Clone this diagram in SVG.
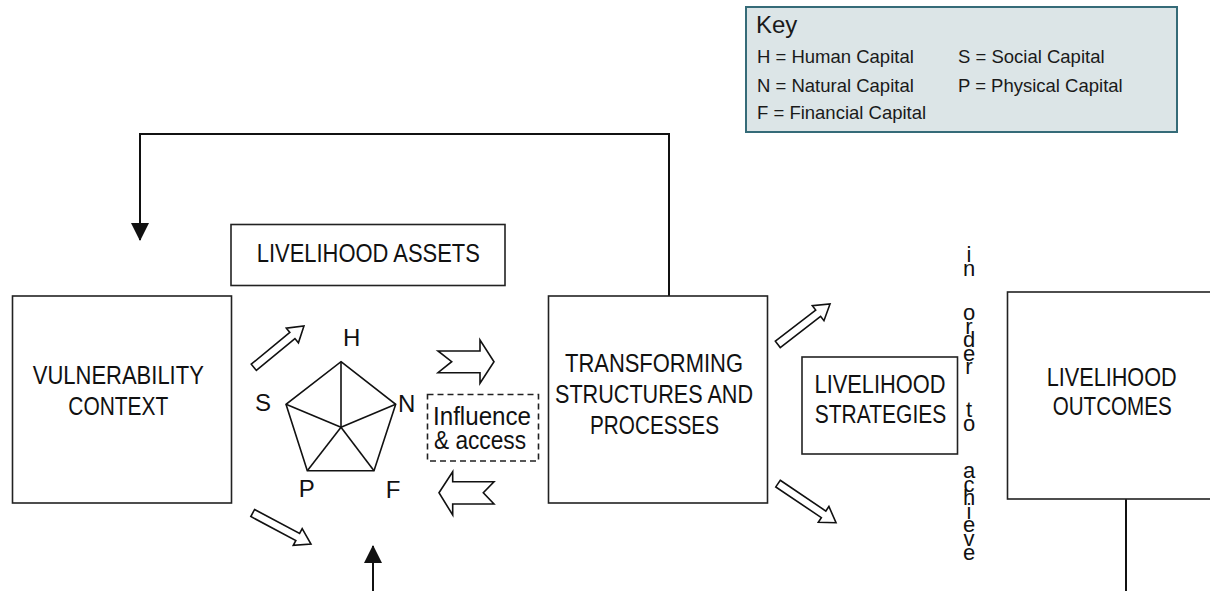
<svg xmlns="http://www.w3.org/2000/svg" width="1210" height="591" viewBox="0 0 1210 591">
<defs>
<style>
.box{fill:#fff;stroke:#222;stroke-width:1.6}
.lbl{font-family:"Liberation Sans",Arial,sans-serif;font-size:25px;fill:#111;text-anchor:middle}
.key{font-family:"Liberation Sans",Arial,sans-serif;font-size:18.5px;fill:#1a1a1a}
.pl{font-family:"Liberation Sans",Arial,sans-serif;font-size:24px;fill:#111;text-anchor:middle}
.vt{font-family:"Liberation Sans",Arial,sans-serif;font-size:22px;fill:#111;writing-mode:vertical-rl;text-orientation:upright;letter-spacing:-11.4px}
.line{fill:none;stroke:#111;stroke-width:2}
.harrow{fill:#fff;stroke:#111;stroke-width:1.6;stroke-linejoin:miter}
</style>
<marker id="ah" viewBox="0 0 18 18" refX="17" refY="9" markerWidth="18" markerHeight="18" markerUnits="userSpaceOnUse" orient="auto">
<path d="M0,0 L18,9 L0,18 Z" fill="#111"/>
</marker>
</defs>
<rect width="1210" height="591" fill="#fff"/>

<g id="key">
<rect x="746" y="7" width="431" height="125" fill="#dce5e7" stroke="#356b78" stroke-width="2"/>
<text x="756" y="33" class="key" style="font-size:24px">Key</text>
<text x="757" y="63" class="key">H = Human Capital</text>
<text x="757" y="91.5" class="key">N = Natural Capital</text>
<text x="757" y="119" class="key">F = Financial Capital</text>
<text x="958" y="63" class="key">S = Social Capital</text>
<text x="958" y="91.5" class="key">P = Physical Capital</text>
</g>

<g id="connectors">
<polyline class="line" points="669,296 669,134 140,134 140,240" marker-end="url(#ah)"/>
<line class="line" x1="373" y1="591" x2="373" y2="546" marker-end="url(#ah)"/>
<line class="line" x1="1126" y1="499" x2="1126" y2="591"/>
<path class="harrow" transform="translate(253.8,367.3) rotate(-39.5)" d="M0,-4 L50,-4 L50,-9.5 L65,0 L50,9.5 L50,4 L0,4 Z"/>
<path class="harrow" transform="translate(252.7,513) rotate(28)" d="M0,-4 L51,-4 L51,-9.5 L66,0 L51,9.5 L51,4 L0,4 Z"/>
<path class="harrow" transform="translate(777.8,344.4) rotate(-37.7)" d="M0,-4 L51,-4 L51,-9.5 L66,0 L51,9.5 L51,4 L0,4 Z"/>
<path class="harrow" transform="translate(778,483.6) rotate(34)" d="M0,-4 L55,-4 L55,-9.5 L70,0 L55,9.5 L55,4 L0,4 Z"/>
<path class="harrow" d="M438,351 L480,351 L480,340 L494,361.7 L480,383.3 L480,372.7 L438,372.7 L451.7,361.7 Z"/>
<path class="harrow" d="M439,492.7 L452.7,471.7 L452.7,481.7 L494,481.7 L483.3,492.7 L494,504 L452.7,504 L452.7,515 Z"/>
</g>

<g id="livelihood-assets">
<rect class="box" x="231" y="224.5" width="274" height="61"/>
<text class="lbl" x="368.3" y="262" textLength="223" lengthAdjust="spacingAndGlyphs">LIVELIHOOD  ASSETS</text>
</g>

<g id="vulnerability-context">
<rect class="box" x="12.5" y="296" width="219" height="207"/>
<text class="lbl" x="118.3" y="384" textLength="171" lengthAdjust="spacingAndGlyphs">VULNERABILITY</text>
<text class="lbl" x="118.3" y="415" textLength="100" lengthAdjust="spacingAndGlyphs">CONTEXT</text>
</g>

<g id="pentagon">
<g fill="none" stroke="#111" stroke-width="1.6" stroke-linejoin="miter">
<polygon points="341,361.7 395.7,404.3 374,470.7 307.3,470.7 286,404.3"/>
<line x1="341" y1="427.3" x2="341" y2="361.7"/>
<line x1="341" y1="427.3" x2="395.7" y2="404.3"/>
<line x1="341" y1="427.3" x2="374" y2="470.7"/>
<line x1="341" y1="427.3" x2="307.3" y2="470.7"/>
<line x1="341" y1="427.3" x2="286" y2="404.3"/>
</g>
<text class="pl" x="351.7" y="345.7">H</text>
<text class="pl" x="263" y="410.5">S</text>
<text class="pl" x="406.7" y="412">N</text>
<text class="pl" x="306.7" y="497">P</text>
<text class="pl" x="393" y="498">F</text>
</g>

<g id="influence-access">
<rect x="427.5" y="394.5" width="111" height="66.5" fill="#fff" stroke="#222" stroke-width="1.6" stroke-dasharray="6,4"/>
<text class="lbl" x="433" y="425" style="text-anchor:start;font-size:26px" textLength="98" lengthAdjust="spacingAndGlyphs">Influence</text>
<text class="lbl" x="434" y="448.5" style="text-anchor:start;font-size:26px" textLength="92" lengthAdjust="spacingAndGlyphs">&amp; access</text>
</g>

<g id="transforming-structures">
<rect class="box" x="548.5" y="296" width="219" height="207"/>
<text class="lbl" x="654" y="371.7" textLength="178" lengthAdjust="spacingAndGlyphs">TRANSFORMING</text>
<text class="lbl" x="654" y="402.7" textLength="198" lengthAdjust="spacingAndGlyphs">STRUCTURES  AND</text>
<text class="lbl" x="654.5" y="434" textLength="129" lengthAdjust="spacingAndGlyphs">PROCESSES</text>
</g>

<g id="livelihood-strategies">
<rect class="box" x="802" y="357" width="155.5" height="97"/>
<text class="lbl" x="880" y="393.3" textLength="131" lengthAdjust="spacingAndGlyphs">LIVELIHOOD</text>
<text class="lbl" x="880.5" y="423.3" textLength="131.5" lengthAdjust="spacingAndGlyphs">STRATEGIES</text>
</g>

<g id="in-order-to-achieve">
<text class="vt" x="969" y="242">in</text>
<text class="vt" x="969" y="300">order</text>
<text class="vt" x="969" y="397">to</text>
<text class="vt" x="969" y="458">achieve</text>
</g>

<g id="livelihood-outcomes">
<rect class="box" x="1007.5" y="292" width="210" height="207"/>
<text class="lbl" x="1111.7" y="385.7" textLength="130" lengthAdjust="spacingAndGlyphs">LIVELIHOOD</text>
<text class="lbl" x="1112.2" y="415" textLength="119" lengthAdjust="spacingAndGlyphs">OUTCOMES</text>
</g>
</svg>
